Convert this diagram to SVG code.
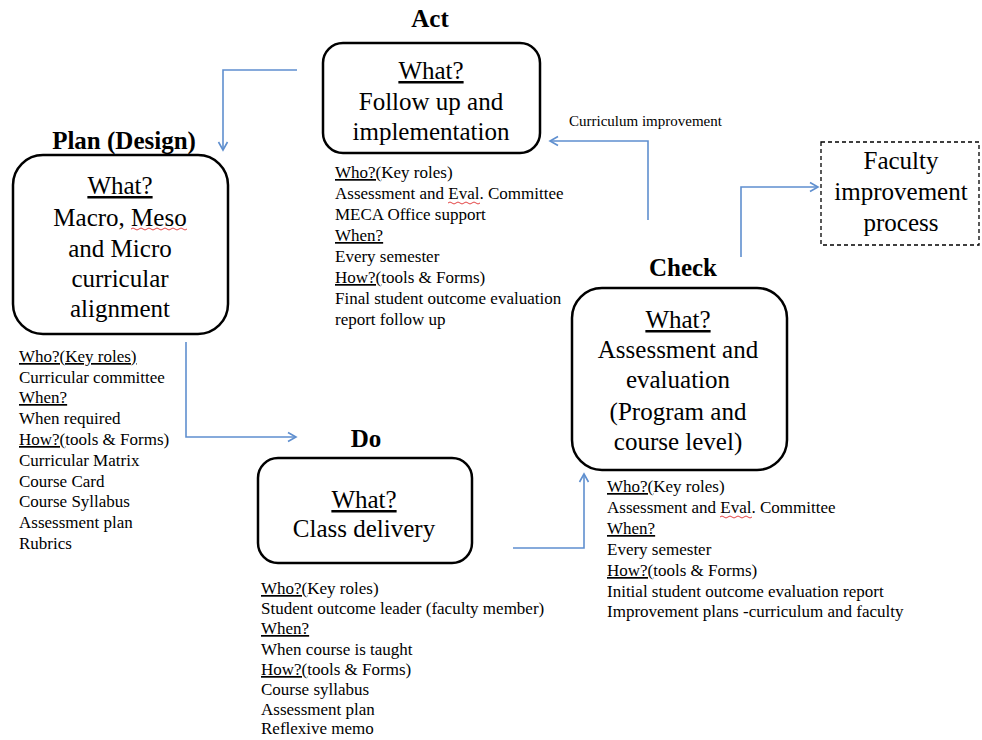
<svg xmlns="http://www.w3.org/2000/svg" width="982" height="740" viewBox="0 0 982 740">
<defs>
<style>
text{font-family:"Liberation Serif","Times New Roman",serif;fill:#000}
.lbl{font-size:25px;font-weight:bold;text-anchor:middle}
.big{font-size:25px;text-anchor:middle}
.lst{font-size:17px}
.sm{font-size:15px}
.u{text-decoration:underline}
.box{fill:#fff;stroke:#000;stroke-width:2.5}
.dash{fill:#fff;stroke:#000;stroke-width:1.3;stroke-dasharray:4 3}
.con{fill:none;stroke:#5F8FCF;stroke-width:1.6}
.sq{fill:none;stroke:#E03030;stroke-width:0.9}
</style>
<marker id="ah" markerUnits="userSpaceOnUse" markerWidth="12" markerHeight="12" refX="9" refY="5" orient="auto" viewBox="0 0 12 10">
<path d="M1,0.5 L9,5 L1,9.5" fill="none" stroke="#5F8FCF" stroke-width="1.6"/>
</marker>
</defs>
<rect width="982" height="740" fill="#fff"/>

<g id="connectors">
<path class="con" d="M297,70 H223 V150" marker-end="url(#ah)"/>
<path class="con" d="M186,342 V437 H296" marker-end="url(#ah)"/>
<path class="con" d="M513,548 H584 V474" marker-end="url(#ah)"/>
<path class="con" d="M648,220 V141 H550" marker-end="url(#ah)"/>
<path class="con" d="M741,257 V187 H818" marker-end="url(#ah)"/>
<text class="sm" x="569" y="126">Curriculum improvement</text>
</g>

<g id="act">
<text class="lbl" x="430" y="27">Act</text>
<rect class="box" x="323" y="43" width="217" height="110" rx="20"/>
<text class="big" x="431" y="79"><tspan class="u">What?</tspan></text>
<text class="big" x="431" y="110">Follow up and</text>
<text class="big" x="431" y="140">implementation</text>
<text class="lst" x="335" y="178"><tspan class="u">Who?(</tspan>Key roles)</text>
<text class="lst" x="335" y="199">Assessment and Eval. Committee</text>
<path class="sq" d="M448,203 q2,-2 4,0 t4,0 t4,0 t4,0 t4,0 t4,0 t4,0 t4,0"/>
<text class="lst" x="335" y="220">MECA Office support</text>
<text class="lst" x="335" y="241"><tspan class="u">When?</tspan></text>
<text class="lst" x="335" y="262">Every semester</text>
<text class="lst" x="335" y="283"><tspan class="u">How?(</tspan>tools &amp; Forms)</text>
<text class="lst" x="335" y="304">Final student outcome evaluation</text>
<text class="lst" x="335" y="325">report follow up</text>
</g>

<g id="plan">
<text class="lbl" x="124" y="149">Plan (Design)</text>
<rect class="box" x="13" y="155" width="215" height="179" rx="30"/>
<text class="big" x="120" y="194"><tspan class="u">What?</tspan></text>
<text class="big" x="120" y="226">Macro, Meso</text>
<path class="sq" d="M131,229 q2,-2 4,0 t4,0 t4,0 t4,0 t4,0 t4,0 t4,0 t4,0 t4,0 t4,0 t4,0 t4,0 t4,0 t4,0"/>
<text class="big" x="120" y="257">and Micro</text>
<text class="big" x="120" y="287">curricular</text>
<text class="big" x="120" y="317">alignment</text>
<text class="lst" x="19" y="362"><tspan class="u">Who?(Key roles)</tspan></text>
<text class="lst" x="19" y="383">Curricular committee</text>
<text class="lst" x="19" y="403"><tspan class="u">When?</tspan></text>
<text class="lst" x="19" y="424">When required</text>
<text class="lst" x="19" y="445"><tspan class="u">How?(</tspan>tools &amp; Forms)</text>
<text class="lst" x="19" y="466">Curricular Matrix</text>
<text class="lst" x="19" y="487">Course Card</text>
<text class="lst" x="19" y="507">Course Syllabus</text>
<text class="lst" x="19" y="528">Assessment plan</text>
<text class="lst" x="19" y="549">Rubrics</text>
</g>

<g id="do">
<text class="lbl" x="366" y="447">Do</text>
<rect class="box" x="258" y="458" width="214" height="105" rx="20"/>
<text class="big" x="364" y="508"><tspan class="u">What?</tspan></text>
<text class="big" x="364" y="537">Class delivery</text>
<text class="lst" x="261" y="594"><tspan class="u">Who?(</tspan>Key roles)</text>
<text class="lst" x="261" y="614">Student outcome leader (faculty member)</text>
<text class="lst" x="261" y="634"><tspan class="u">When?</tspan></text>
<text class="lst" x="261" y="655">When course is taught</text>
<text class="lst" x="261" y="675"><tspan class="u">How?(</tspan>tools &amp; Forms)</text>
<text class="lst" x="261" y="695">Course syllabus</text>
<text class="lst" x="261" y="715">Assessment plan</text>
<text class="lst" x="261" y="734">Reflexive memo</text>
</g>

<g id="check">
<text class="lbl" x="683" y="276">Check</text>
<rect class="box" x="572" y="288" width="215" height="182" rx="30"/>
<text class="big" x="678" y="328"><tspan class="u">What?</tspan></text>
<text class="big" x="678" y="358">Assessment  and</text>
<text class="big" x="678" y="388">evaluation</text>
<text class="big" x="678" y="420">(Program  and</text>
<text class="big" x="678" y="450">course level)</text>
<text class="lst" x="607" y="492"><tspan class="u">Who?(</tspan>Key roles)</text>
<text class="lst" x="607" y="513">Assessment and Eval. Committee</text>
<path class="sq" d="M720,517 q2,-2 4,0 t4,0 t4,0 t4,0 t4,0 t4,0 t4,0 t4,0"/>
<text class="lst" x="607" y="534"><tspan class="u">When?</tspan></text>
<text class="lst" x="607" y="555">Every semester</text>
<text class="lst" x="607" y="576"><tspan class="u">How?(</tspan>tools &amp; Forms)</text>
<text class="lst" x="607" y="597">Initial student outcome evaluation report</text>
<text class="lst" x="607" y="617">Improvement plans -curriculum and faculty</text>
</g>

<g id="faculty">
<rect class="dash" x="821" y="142" width="158" height="103"/>
<text class="big" x="901" y="169">Faculty</text>
<text class="big" x="901" y="200">improvement</text>
<text class="big" x="901" y="231">process</text>
</g>
</svg>
